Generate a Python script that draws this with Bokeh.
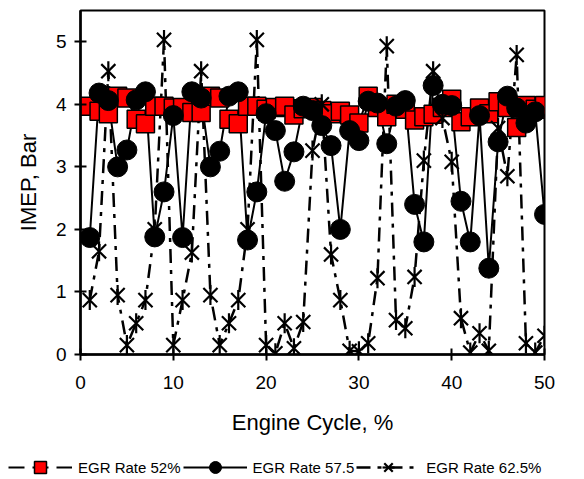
import math
from bokeh.plotting import figure
from bokeh.models import Range1d, Legend, LegendItem, FixedTicker
from bokeh.embed import file_html
from bokeh.resources import INLINE

# ---- data ----
cycle = list(range(1, 51))
egr_52 = [3.97, 3.89, 3.85, 4.13, 4.10, 3.76, 3.69, 3.97, 3.97, 3.94,
          3.95, 3.87, 3.87, 4.13, 4.10, 3.76, 3.69, 3.97, 3.97, 3.92,
          3.95, 3.97, 3.83, 3.93, 3.95, 3.90, 3.85, 3.89, 3.83, 3.70,
          4.13, 3.95, 3.80, 4.00, 3.92, 3.75, 3.80, 3.84, 3.95, 4.08,
          3.72, 3.80, 3.94, 3.85, 4.04, 3.95, 3.63, 3.98, 3.92, 3.98]
egr_575 = [1.87, 4.18, 4.06, 3.00, 3.27, 4.07, 4.20, 1.88, 2.60, 3.82,
           1.87, 4.20, 4.10, 3.00, 3.25, 4.13, 4.20, 1.83, 2.60, 3.85,
           3.58, 2.77, 3.24, 3.97, 3.90, 3.66, 3.34, 2.00, 3.58, 3.42,
           4.05, 4.02, 3.37, 3.97, 4.06, 2.40, 1.80, 4.30, 4.00, 3.98,
           2.45, 1.80, 3.82, 1.38, 3.40, 4.13, 3.94, 3.70, 3.88, 2.24]
egr_62 = [0.87, 1.65, 4.53, 0.95, 0.15, 0.50, 0.87, 2.00, 5.03, 0.15,
          0.87, 1.63, 4.53, 0.95, 0.15, 0.50, 0.87, 2.00, 5.03, 0.15,
          0.02, 0.50, 0.10, 0.52, 3.26, 4.00, 1.60, 0.87, 0.06, 0.05,
          0.18, 1.22, 4.93, 0.55, 0.42, 1.24, 3.10, 4.53, 3.78, 3.08,
          0.58, 0.03, 0.34, 0.06, 3.62, 2.85, 4.79, 0.18, 0.03, 0.30]
labels = ["EGR Rate 52%", "EGR Rate 57.5", "EGR Rate 62.5%"]
x_ticks = [0, 10, 20, 30, 40, 50]
y_ticks = [0, 1, 2, 3, 4, 5]

FONT = "Liberation Sans"


def draw_series(fig):
    # lines first (all series), then markers
    l52 = fig.line(cycle, egr_52, line_color="black", line_width=2, line_dash="16 8")
    l575 = fig.line(cycle, egr_575, line_color="black", line_width=2)
    l62 = fig.line(cycle, egr_62, line_color="black", line_width=2.5,
                   line_dash="14 7 4 7")
    s52 = fig.scatter(cycle, egr_52, marker="square", size=18, fill_color="#FF0000",
                      line_color="black", line_width=1.5)
    s575 = fig.scatter(cycle, egr_575, marker="circle", size=20, fill_color="black",
                       line_color="black")
    s62x = fig.scatter(cycle, egr_62, marker="x", size=20, line_color="black",
                       line_width=2.2)
    s62v = fig.scatter(cycle, egr_62, marker="dash", size=20, angle=math.pi / 2,
                       line_color="black", line_width=2.2)
    return [[l52, s52], [l575, s575], [l62, s62x, s62v]]


p = figure(width=584, height=444, output_backend="svg", toolbar_location=None,
           x_range=Range1d(0, 50), y_range=Range1d(0, 5.5),
           min_border_left=80, min_border_right=40, min_border_top=10,
           min_border_bottom=90,
           x_axis_label="Engine Cycle, %", y_axis_label="IMEP, Bar")
p.background_fill_color = "white"
p.border_fill_color = "white"
p.outline_line_color = "black"
p.outline_line_width = 2
p.grid.visible = False
draw_series(p)

for ax in (p.xaxis[0], p.yaxis[0]):
    ax.axis_line_width = 2.5
    ax.axis_line_color = "black"
    ax.major_tick_line_width = 2
    ax.major_tick_line_color = "black"
    ax.major_tick_in = 6
    ax.major_tick_out = 6
    ax.minor_tick_line_color = None
    ax.major_label_text_font = FONT
    ax.major_label_text_font_size = "19px"
    ax.major_label_text_color = "black"
    ax.axis_label_text_font = FONT
    ax.axis_label_text_font_size = "22px"
    ax.axis_label_text_font_style = "normal"
    ax.axis_label_text_color = "black"

p.xaxis[0].ticker = FixedTicker(ticks=x_ticks)
p.yaxis[0].ticker = FixedTicker(ticks=y_ticks)
p.xaxis[0].major_label_standoff = 15
p.xaxis[0].axis_label_standoff = 18
p.yaxis[0].major_label_standoff = 8
p.yaxis[0].axis_label_standoff = 12

# legend strip below the chart (series drawn out of view, only the legend shows)
lg = figure(width=584, height=35, output_backend="svg", toolbar_location=None,
            x_range=Range1d(-200, -199), y_range=Range1d(-200, -199),
            x_axis_type=None, y_axis_type=None,
            min_border_left=0, min_border_right=0, min_border_top=0,
            min_border_bottom=0)
lg.outline_line_color = None
lg.grid.visible = False
lg.background_fill_color = "white"
lg.border_fill_color = "white"
rends = draw_series(lg)

legend = Legend(items=[LegendItem(label=lab, renderers=r) for lab, r in zip(labels, rends)],
                location=(8, -3), orientation="horizontal",
                glyph_width=64, glyph_height=30, label_standoff=6, spacing=2,
                padding=0, margin=0, border_line_color=None, background_fill_alpha=0,
                label_text_font=FONT, label_text_font_size="15px",
                label_text_color="black")
lg.add_layout(legend, "center")

open("out.html", "w").write(file_html([p, lg], INLINE))
